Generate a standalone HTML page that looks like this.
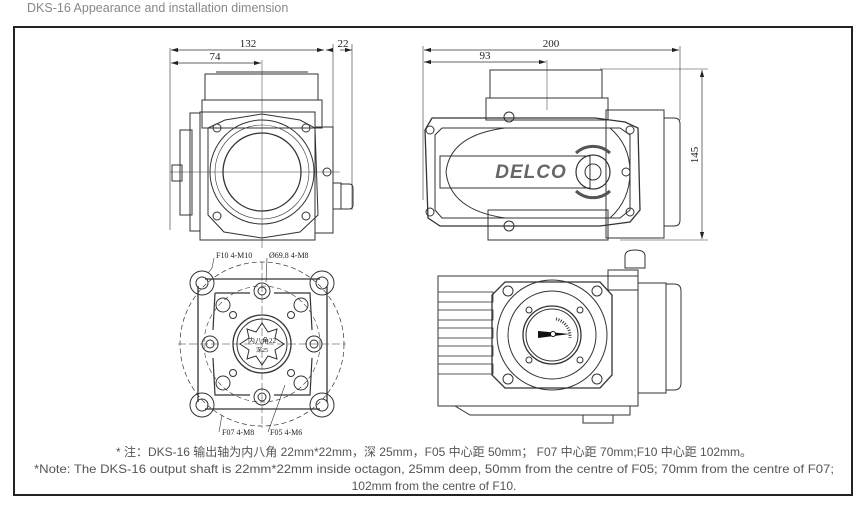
<!DOCTYPE html>
<html><head><meta charset="utf-8"><style>
html,body{margin:0;padding:0;background:#fff;width:868px;height:506px;overflow:hidden}
svg{display:block}
.t{font-family:"Liberation Sans","Noto Sans CJK SC",sans-serif}
.m{font-family:"Liberation Serif",serif}
</style></head><body>
<svg width="868" height="506" viewBox="0 0 868 506" xmlns="http://www.w3.org/2000/svg">
<defs>
<marker id="a" viewBox="0 0 10 6" refX="10" refY="3" markerWidth="10" markerHeight="6" orient="auto-start-reverse"><path d="M0,0L10,3L0,6z" fill="#222"/></marker>
</defs>
<text x="27" y="12" class="t" font-size="12.5" fill="#888">DKS-16 Appearance and installation dimension</text>
<rect x="14" y="27" width="838" height="468" fill="none" stroke="#222" stroke-width="2"/>

<g stroke="#333" fill="none" stroke-width="1">
<!-- TOP LEFT -->
<line x1="170" y1="48" x2="170" y2="230" stroke-width=".6"/>
<line x1="333" y1="44" x2="333" y2="130" stroke-width=".6"/>
<line x1="352" y1="44" x2="352" y2="210" stroke-width=".6"/>
<line x1="171" y1="50" x2="324" y2="50" marker-start="url(#a)" marker-end="url(#a)" stroke-width=".7"/>
<line x1="326" y1="50" x2="333" y2="50" marker-start="url(#a)" stroke-width=".7"/>
<line x1="340" y1="50" x2="352" y2="50" marker-end="url(#a)" stroke-width=".7"/>
<line x1="171" y1="63" x2="261" y2="63" marker-start="url(#a)" marker-end="url(#a)" stroke-width=".7"/>
<line x1="262" y1="60" x2="262" y2="248" stroke-width=".5"/>
<line x1="170" y1="172" x2="340" y2="172" stroke-width=".5"/>
<rect x="205" y="74" width="113" height="26"/>
<line x1="216" y1="72" x2="308" y2="72"/>
<rect x="202" y="100" width="120" height="28"/>
<rect x="200" y="112" width="115" height="128"/>
<path d="M208,128 L225,120 L262,114 L300,120 L315,128 L318,215 L300,232 L262,238 L224,232 L208,215 Z"/>
<circle cx="262" cy="172" r="52"/>
<circle cx="262" cy="172" r="47" stroke-width=".6"/>
<circle cx="262" cy="172" r="39" stroke-width="1.3"/>
<circle cx="217" cy="128" r="4"/><circle cx="306" cy="128" r="4"/>
<circle cx="217" cy="216" r="4"/><circle cx="306" cy="216" r="4"/>
<rect x="190" y="113" width="10" height="118"/>
<rect x="180" y="130" width="12" height="85"/>
<rect x="172" y="165" width="10" height="16"/>
<rect x="315" y="127" width="18" height="106"/>
<circle cx="327" cy="172" r="4"/>
<rect x="333" y="183" width="8" height="26"/>
<path d="M341,184 h8 q4,0 4,4 v17 q0,4 -4,4 h-8"/>
<!-- TOP RIGHT -->
<line x1="423" y1="46" x2="423" y2="200" stroke-width=".6"/>
<line x1="680" y1="46" x2="680" y2="120" stroke-width=".6"/>
<line x1="424" y1="50" x2="679" y2="50" marker-start="url(#a)" marker-end="url(#a)" stroke-width=".7"/>
<line x1="424" y1="62" x2="546" y2="62" marker-start="url(#a)" marker-end="url(#a)" stroke-width=".7"/>
<line x1="547" y1="60" x2="547" y2="110" stroke-width=".5"/>
<line x1="600" y1="69" x2="708" y2="69" stroke-width=".6"/>
<line x1="620" y1="240" x2="708" y2="240" stroke-width=".6"/>
<line x1="702" y1="70" x2="702" y2="239" marker-start="url(#a)" marker-end="url(#a)" stroke-width=".7"/>
<rect x="490" y="70" width="112" height="28"/>
<rect x="486" y="98" width="122" height="22"/>
<rect x="488" y="210" width="120" height="30"/>
<rect x="606" y="110" width="58" height="128"/>
<path d="M664,118 h10 q6,0 6,6 v96 q0,6 -6,6 h-10"/>
<path d="M432,118 L595,118 L625,122 L638,128 L640,210 L630,222 L600,226 L440,226 L428,218 L425,130 Z" stroke-width="1.3"/>
<path d="M442,128 L620,128 L630,135 L630,210 L620,218 L442,218 L435,210 L435,135 Z"/>
<path d="M505,128 Q450,135 446,172 Q450,210 505,218 L610,218 Q630,200 630,172 Q630,145 610,128 Z"/>
<rect x="440" y="156" width="150" height="32"/>
<circle cx="509" cy="117" r="5"/><circle cx="509" cy="226" r="5"/>
<circle cx="430" cy="130" r="4"/><circle cx="630" cy="130" r="4"/>
<circle cx="430" cy="212" r="4"/><circle cx="630" cy="212" r="4"/>
<circle cx="593" cy="172" r="17" stroke-width="1.2"/>
<circle cx="593" cy="172" r="8"/>
<circle cx="626" cy="172" r="4"/>
<path d="M576,153 A25,25 0 0 1 610,153 M576,191 A25,25 0 0 0 610,191" stroke-width="3" stroke="#555"/>
<!-- BOTTOM LEFT -->
<circle cx="262" cy="344" r="82" stroke-dasharray="5,3" stroke-width=".7"/>
<circle cx="262" cy="344" r="58" stroke-dasharray="5,3" stroke-width=".6"/>
<line x1="178" y1="344" x2="346" y2="344" stroke-dasharray="8,3" stroke-width=".5"/>
<line x1="262" y1="262" x2="262" y2="428" stroke-dasharray="8,3" stroke-width=".5"/>
<path d="M205,279 L320,279 M205,409 L320,409 M198,286 L198,402 M327,286 L327,402" stroke-width="1.3"/>
<circle cx="202" cy="283" r="12"/><circle cx="322" cy="283" r="12"/>
<circle cx="202" cy="405" r="12"/><circle cx="322" cy="405" r="12"/>
<circle cx="202" cy="283" r="6"/><circle cx="322" cy="283" r="6"/>
<circle cx="202" cy="405" r="6"/><circle cx="322" cy="405" r="6"/>
<path d="M215,293 L250,293 M274,293 L310,293 L312,330 M312,358 L310,395 L274,395 M250,395 L215,395 L213,358 M213,330 L215,293" stroke-width="1.2"/>
<circle cx="262" cy="291" r="8"/><circle cx="262" cy="397" r="8"/>
<circle cx="210" cy="344" r="8"/><circle cx="314" cy="344" r="8"/>
<circle cx="262" cy="291" r="4"/><circle cx="262" cy="397" r="4"/>
<circle cx="210" cy="344" r="4"/><circle cx="314" cy="344" r="4"/>
<circle cx="223" cy="305" r="7"/><circle cx="301" cy="305" r="7"/>
<circle cx="223" cy="383" r="7"/><circle cx="301" cy="383" r="7"/>
<circle cx="233" cy="315" r="3.5"/><circle cx="291" cy="315" r="3.5"/>
<circle cx="233" cy="373" r="3.5"/><circle cx="291" cy="373" r="3.5"/>
<circle cx="262" cy="344" r="29" stroke-width="1.3"/>
<circle cx="262" cy="344" r="25"/>
<path d="M262,323 L268,332 L277,329 L275,338 L284,344 L275,350 L277,359 L268,356 L262,365 L256,356 L247,359 L249,350 L240,344 L249,338 L247,329 L256,332 Z"/>
<path d="M214,258 L212,268 L208,273 M267,258 L266,282 M219,432 L222,415 M268,432 L285,385" stroke-width=".6"/>
<!-- BOTTOM RIGHT -->
<rect x="438" y="276" width="200" height="130"/>
<rect x="608" y="270" width="30" height="20"/>
<rect x="638" y="283" width="28" height="110"/>
<path d="M666,284 h8 q7,0 7,7 v92 q0,7 -7,7 h-8"/>
<path d="M625,268 v-12 q0,-6 10,-6 q10,0 10,6 v12 z"/>
<g stroke-width=".8">
<rect x="438" y="292" width="55" height="10"/><rect x="438" y="310" width="55" height="10"/>
<rect x="438" y="328" width="55" height="10"/><rect x="438" y="346" width="55" height="10"/>
<rect x="438" y="364" width="55" height="10"/>
</g>
<path d="M455,406 L470,415 L630,415 L630,406"/>
<rect x="583" y="415" width="30" height="8"/>
<path d="M505,282 L600,282 L612,295 L612,375 L600,388 L505,388 L492,375 L492,295 Z" stroke-width="1.3"/>
<circle cx="552" cy="335" r="55"/>
<circle cx="552" cy="335" r="44"/>
<circle cx="552" cy="335" r="29" stroke-width="1.3"/>
<circle cx="552" cy="335" r="26"/>
<circle cx="508" cy="291" r="5"/><circle cx="597" cy="291" r="5"/>
<circle cx="508" cy="379" r="5"/><circle cx="597" cy="379" r="5"/>
<circle cx="529" cy="310" r="3"/><circle cx="580" cy="310" r="3"/>
<circle cx="529" cy="360" r="3"/><circle cx="580" cy="360" r="3"/>
</g>
<path d="M538,331 L570,334 L538,338 Z" fill="#111"/>
<circle cx="553" cy="334" r="2.5" fill="#fff" stroke="#111"/>
<path d="M556,319 A18,18 0 0 1 570,338" fill="none" stroke="#333" stroke-width="3" stroke-dasharray="1,1.5"/>
<text x="531" y="178" font-family="Liberation Sans,sans-serif" font-weight="bold" font-style="italic" font-size="19" fill="#666" text-anchor="middle" letter-spacing="1">DELCO</text>

<g class="m" font-size="11" fill="#222" text-anchor="middle">
<text x="248" y="47">132</text><text x="343" y="47">22</text><text x="215" y="60">74</text>
<text x="551" y="47">200</text><text x="485" y="59">93</text>
<text x="0" y="0" transform="translate(698,155) rotate(-90)">145</text>
</g>
<g class="m" font-size="8" fill="#222">
<text x="216" y="258">F10 4-M10</text><text x="269" y="258">Ø69.8 4-M8</text>
<text x="222" y="435">F07 4-M8</text><text x="270" y="435">F05 4-M6</text>
<text x="262" y="343" text-anchor="middle" font-size="7">内八角22</text>
<text x="262" y="352" text-anchor="middle" font-size="6">深25</text>
</g>
<g class="t" font-size="12" fill="#555" text-anchor="middle">
<text x="434" y="456">* 注：DKS-16 输出轴为内八角 22mm*22mm，深 25mm，F05 中心距 50mm； F07 中心距 70mm;F10 中心距 102mm。</text>
<text x="434" y="473" textLength="800" lengthAdjust="spacingAndGlyphs">*Note: The DKS-16 output shaft is 22mm*22mm inside octagon, 25mm deep, 50mm from the centre of F05; 70mm from the centre of F07;</text>
<text x="434" y="490">102mm from the centre of F10.</text>
</g>
</svg>
</body></html>
